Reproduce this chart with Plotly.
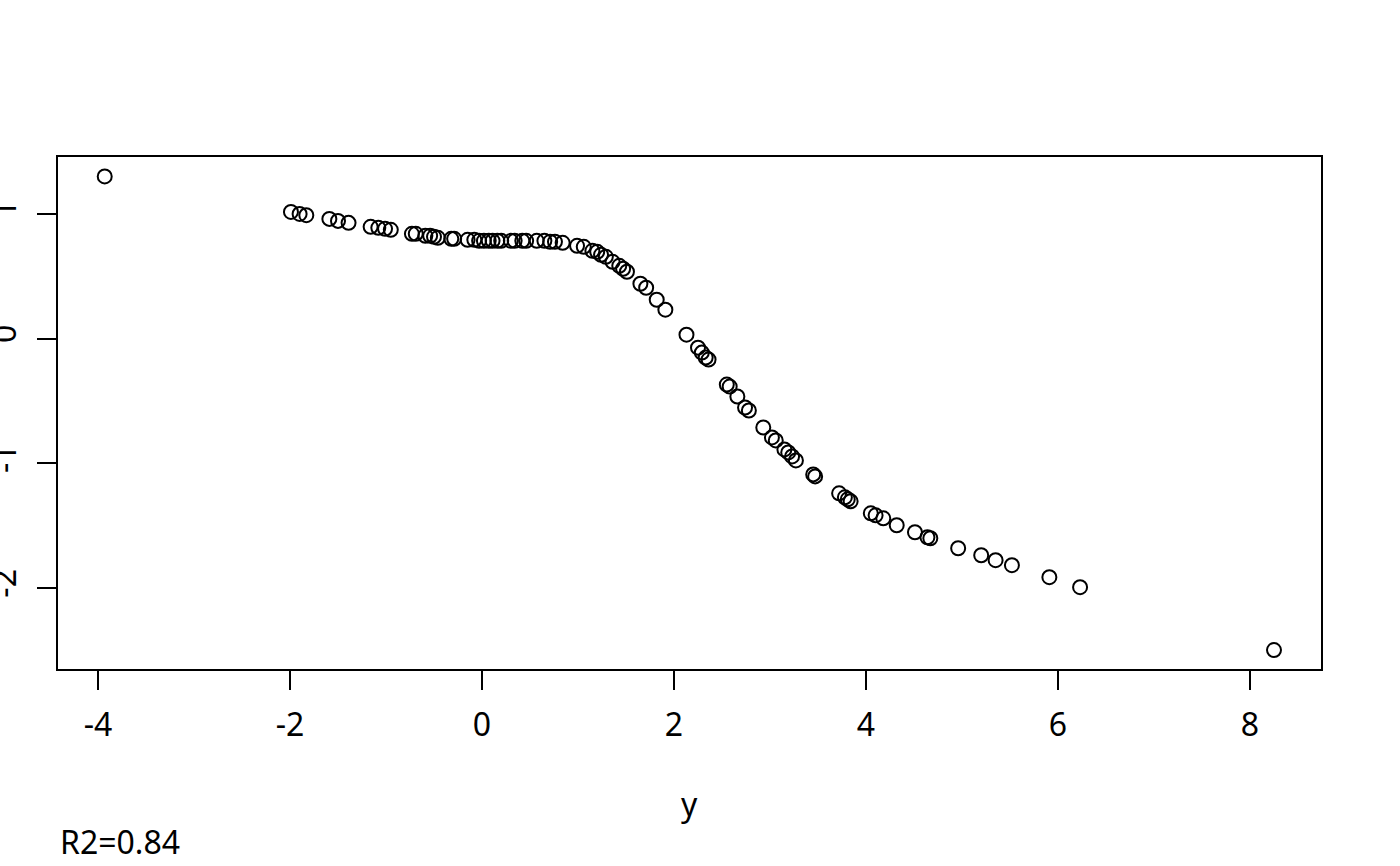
import plotly.graph_objects as go

# Observed values (x = "y" variable, y = fitted/response)
x_vals = [-3.93, -1.99, -1.90, -1.83, -1.59, -1.50, -1.39, -1.16, -1.08, -1.01,
          -0.95, -0.73, -0.69, -0.59, -0.54, -0.50, -0.46, -0.32, -0.29, -0.15,
          -0.08, -0.03, 0.02, 0.07, 0.11, 0.16, 0.20, 0.30, 0.34, 0.42,
          0.46, 0.57, 0.65, 0.71, 0.76, 0.84, 0.99, 1.06, 1.15, 1.20,
          1.24, 1.29, 1.36, 1.43, 1.47, 1.51, 1.65, 1.71, 1.82, 1.91,
          2.13, 2.25, 2.29, 2.33, 2.36, 2.55, 2.58, 2.66, 2.74, 2.78,
          2.93, 3.02, 3.06, 3.15, 3.19, 3.23, 3.27, 3.45, 3.47, 3.72,
          3.78, 3.81, 3.84, 4.05, 4.10, 4.18, 4.32, 4.51, 4.64, 4.67,
          4.96, 5.20, 5.35, 5.52, 5.91, 6.23, 8.25]
y_vals = [1.300, 1.016, 1.000, 0.990, 0.960, 0.944, 0.928, 0.896, 0.888, 0.880,
          0.872, 0.840, 0.840, 0.824, 0.824, 0.816, 0.808, 0.800, 0.800, 0.792,
          0.792, 0.784, 0.784, 0.784, 0.784, 0.784, 0.784, 0.784, 0.784, 0.784,
          0.784, 0.784, 0.784, 0.776, 0.776, 0.768, 0.744, 0.736, 0.704, 0.696,
          0.672, 0.656, 0.616, 0.584, 0.560, 0.536, 0.440, 0.408, 0.312, 0.232,
          0.032, -0.072, -0.112, -0.152, -0.168, -0.368, -0.384, -0.464, -0.552, -0.576,
          -0.712, -0.792, -0.816, -0.888, -0.912, -0.944, -0.976, -1.088, -1.104, -1.240,
          -1.272, -1.288, -1.304, -1.400, -1.416, -1.440, -1.496, -1.552, -1.592, -1.600,
          -1.680, -1.736, -1.776, -1.816, -1.912, -1.992, -2.496]

x_ticks = [-4, -2, 0, 2, 4, 6, 8]
y_ticks = [-2, -1, 0, 1]
x_title = "y"
r2_label = "R2=0.84"

FONT = "Noto Sans"

fig = go.Figure()
fig.add_trace(go.Scatter(
    x=x_vals, y=y_vals, mode="markers",
    marker=dict(symbol="circle-open", size=14, color="black", line=dict(width=2)),
    showlegend=False, hoverinfo="skip",
))

axis_common = dict(
    showgrid=False, zeroline=False, showline=True, mirror=True,
    linecolor="black", linewidth=2, ticks="outside", ticklen=19,
    tickwidth=2, tickcolor="black", automargin=False,
    tickfont=dict(family=FONT, size=32, color="black"),
)

fig.update_layout(
    width=1400, height=866,
    margin=dict(l=58, r=79, t=157, b=197),
    paper_bgcolor="white", plot_bgcolor="white",
    xaxis=dict(range=[-4.4167, 8.7396], tickvals=x_ticks,
               ticktext=[str(v) for v in x_ticks], ticklabelstandoff=8,
               **axis_common),
    yaxis=dict(range=[-2.648, 1.456], tickvals=y_ticks,
               ticktext=[str(v) for v in y_ticks], tickangle=-90,
               ticklabelstandoff=8, **axis_common),
    annotations=[
        dict(text=x_title, xref="paper", yref="paper", x=0.5, y=-0.262,
             xanchor="center", yanchor="middle", showarrow=False,
             font=dict(family=FONT, size=32, color="black")),
        dict(text=r2_label, xref="paper", yref="paper", x=0.0, y=-0.336,
             xanchor="left", yanchor="middle", showarrow=False,
             font=dict(family=FONT, size=32, color="black")),
    ],
)

fig.write_html(
    "out.html",
    config={"displayModeBar": False},
    post_script="document.body.style.margin='0';document.body.style.padding='0';",
)
